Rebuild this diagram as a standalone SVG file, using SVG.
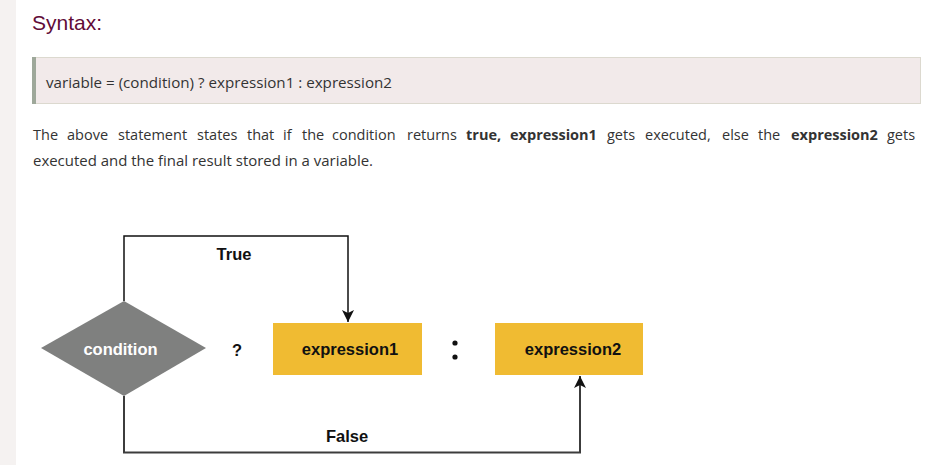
<svg xmlns="http://www.w3.org/2000/svg" width="926" height="465" viewBox="0 0 926 465">
<style>
.para{font-family:"Open Sans","Liberation Sans",sans-serif;font-size:14.5px;fill:#333}
.b{font-weight:bold}
.lbl{font-family:"Liberation Sans",Arial,sans-serif;font-weight:bold;font-size:16.5px;fill:#111;text-anchor:middle}
.box{fill:#f0bb32}
</style>
<defs>
<marker id="arr" viewBox="0 0 12 12" refX="12" refY="6" markerWidth="12" markerHeight="12" markerUnits="userSpaceOnUse" orient="auto">
<path d="M0,0 L12,6 L0,12 L3,6 z" fill="#111"/>
</marker>
</defs>
<rect x="0" y="0" width="926" height="465" fill="#ffffff"/>
<rect x="0" y="0" width="16" height="465" fill="#f5f2f1"/>
<text x="32" y="30" font-family="Liberation Sans,Arial,sans-serif" font-size="21" fill="#610b38">Syntax:</text>
<rect x="32.5" y="57.5" width="888" height="46" fill="#f2eaea" stroke="#dcd9cf"/>
<rect x="32" y="57" width="4" height="47" fill="#9ea89a"/>
<text x="46" y="88" class="para" style="font-size:14px" textLength="346" lengthAdjust="spacingAndGlyphs">variable = (condition) ? expression1 : expression2</text>
<text class="para" y="140"><tspan x="33">The</tspan><tspan x="67">above</tspan><tspan x="118">statement</tspan><tspan x="197">states</tspan><tspan x="247">that</tspan><tspan x="283">if</tspan><tspan x="302">the</tspan><tspan x="332">condition</tspan><tspan x="407">returns</tspan><tspan x="466" class="b">true,</tspan><tspan x="510" class="b">expression1</tspan><tspan x="607">gets</tspan><tspan x="645">executed,</tspan><tspan x="722">else</tspan><tspan x="758">the</tspan><tspan x="791" class="b">expression2</tspan><tspan x="887">gets</tspan></text>
<text class="para" x="33" y="166" textLength="340" lengthAdjust="spacingAndGlyphs">executed and the final result stored in a variable.</text>
<g id="connectors" fill="none">
<path d="M124,301 V236 H348 V322" stroke="#111" stroke-width="1.5" marker-end="url(#arr)"/>
<path d="M124,396 V452.5 H580 V376" stroke="#3c3c3c" stroke-width="2" marker-end="url(#arr)"/>
</g>
<g id="condition">
<polygon points="41,348 124,301 206,348 124,396" fill="#7f807f"/>
<text x="120.5" y="355" class="lbl" style="fill:#ffffff;font-size:16.5px">condition</text>
</g>
<g id="expression1">
<rect x="273" y="323" width="149" height="52" class="box"/>
<text x="350" y="355" class="lbl">expression1</text>
</g>
<g id="expression2">
<rect x="495" y="323" width="148" height="52" class="box"/>
<text x="573" y="355" class="lbl">expression2</text>
</g>
<g id="labels">
<text x="234" y="260" class="lbl">True</text>
<text x="347" y="442" class="lbl">False</text>
<text x="237" y="356" class="lbl">?</text>
<circle cx="455" cy="343" r="2.6" fill="#111"/>
<circle cx="455" cy="357" r="2.6" fill="#111"/>
</g>
</svg>
